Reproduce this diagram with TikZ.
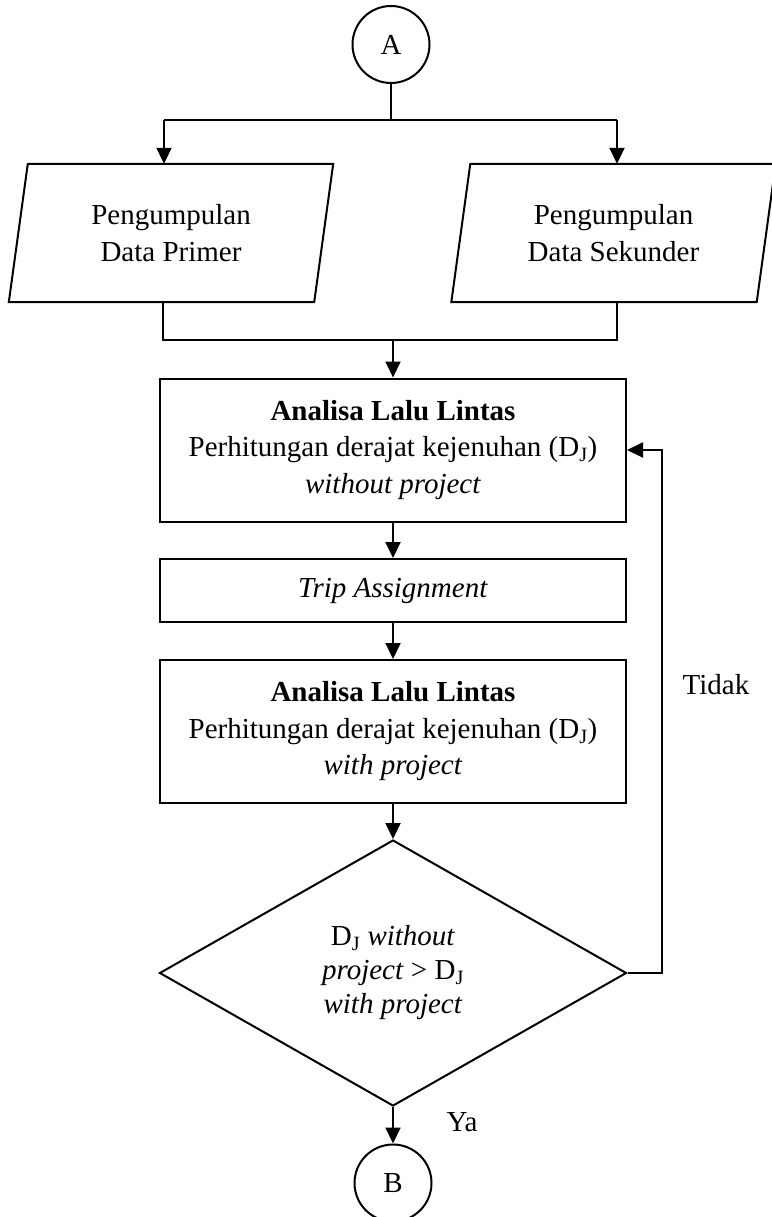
\documentclass[tikz,border=0pt]{standalone}
\usepackage{fontspec}
\setmainfont{Liberation Serif}
\usetikzlibrary{arrows.meta,shapes.geometric,calc}
\tikzset{
  ln/.style={line width=2pt,black},
  arr/.style={ln,-{Triangle[width=15pt,length=16pt]}},
  txt/.style={font=\fontsize{29}{36.5}\selectfont,align=center,inner sep=0pt},
  boxn/.style={ln,draw,rectangle,minimum width=466pt,inner sep=0pt,txt},
  conn/.style={ln,draw,circle,minimum size=77pt,inner sep=0pt,txt},
  paran/.style={rectangle,inner sep=0pt,minimum width=324pt,minimum height=138pt,txt},
  decn/.style={ln,draw,diamond,minimum width=467pt,minimum height=266pt,inner sep=0pt}
}
\begin{document}
\begin{tikzpicture}[x=1pt,y=-1pt]
\useasboundingbox (0,0) rectangle (771,1217);
\fill[white] (0,0) rectangle (771,1217);

\node[conn] (A) at (391,44.5) {A};

\node[paran] (p1) at (171,233) {Pengumpulan\\Data Primer};
\node[paran] (p2) at (613.5,233) {Pengumpulan\\Data Sekunder};
\draw[ln] (p1.south west) -- ($(p1.north west)+(19,0)$) -- (p1.north east) -- ($(p1.south east)+(-19,0)$) -- cycle;
\draw[ln] (p2.south west) -- ($(p2.north west)+(19,0)$) -- (p2.north east) -- ($(p2.south east)+(-19,0)$) -- cycle;

\node[boxn,minimum height=143pt] (b1) at (393,450)
  {\textbf{Analisa Lalu Lintas}\\Perhitungan derajat kejenuhan (D\textsubscript{J})\\\textit{without project}};
\node[boxn,minimum height=63pt] (b2) at (393,590.5) {\textit{Trip Assignment}};
\node[boxn,minimum height=143pt] (b3) at (393,731.5)
  {\textbf{Analisa Lalu Lintas}\\Perhitungan derajat kejenuhan (D\textsubscript{J})\\\textit{with project}};

\node[decn] (d) at (393,973) {};
\node[txt,font=\fontsize{29}{34}\selectfont] (dt) at (d.center)
  {D\textsubscript{J} \textit{without}\\\textit{project} > D\textsubscript{J}\\\textit{with project}};

\node[conn] (B) at (393,1183) {B};

\node[txt] (tidak) at (716,685) {Tidak};
\node[txt] (ya) at (462,1122) {Ya};

% top split
\coordinate (tl) at (164,120);
\coordinate (tr) at (617,120);
\draw[ln] (A.south) -- (A.south |- tl);
\draw[ln] (tl) -- (tr);
\draw[arr] (tl) -- (tl |- p1.north);
\draw[arr] (tr) -- (tr |- p2.north);

% merge
\coordinate (jl) at (163,340);
\coordinate (jr) at (617,340);
\draw[ln] (p1.south -| jl) -- (jl) -- (jr) -- (p2.south -| jr);
\draw[arr] (b1.north |- jl) -- (b1.north);

\draw[arr] (b1.south) -- (b2.north);
\draw[arr] (b2.south) -- (b3.north);
\draw[arr] (b3.south) -- (d.north);
\draw[arr] (d.south) -- (B.north);

% feedback
\coordinate (fb) at (662,973);
\draw[arr] (d.east) -- (fb) |- (b1.east);
\end{tikzpicture}
\end{document}
